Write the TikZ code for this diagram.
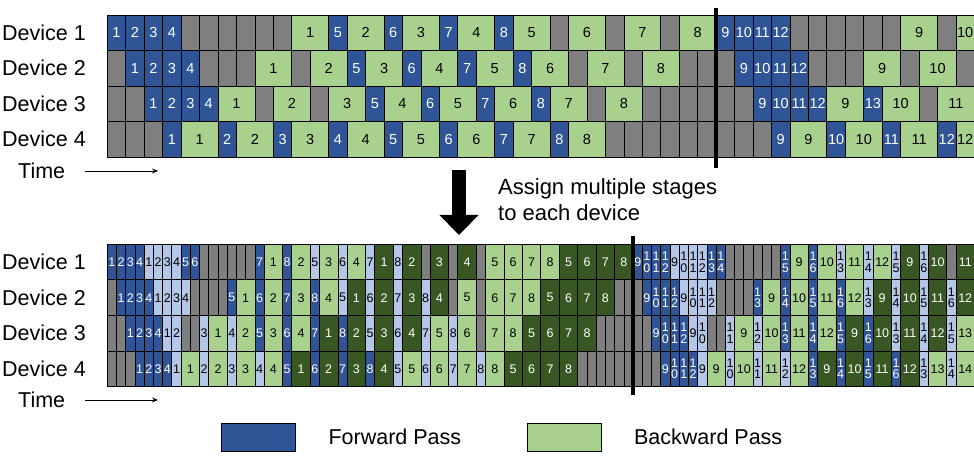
\documentclass[tikz,border=0pt]{standalone}
\usepackage{fontspec}
\setmainfont{Liberation Sans}
\usetikzlibrary{arrows.meta,positioning,calc}

\definecolor{fwdblue}{RGB}{47,85,151}
\definecolor{fwdlight}{RGB}{180,199,231}
\definecolor{bwdgreen}{RGB}{169,209,142}
\definecolor{bwddark}{RGB}{56,87,35}
\definecolor{idlegray}{RGB}{127,127,127}

% one device row: #1 name, #2 centre y, #3 slot width, #4 cell style, #5 cells (slots/style/label)
\newcommand{\devrow}[5]{%
  \foreach \w/\s/\l [count=\n, remember=\xe as \xs (initially 0), evaluate=\w as \xe using \xs+\w] in {#5}
    \node[#4, \s, minimum width={\w*#3*1pt}] (#1-\n) at ({107.3+(\xs+\w/2)*#3}, {#2}) {\l};
}

\begin{document}
\begin{tikzpicture}[x=1pt, y=-1pt,
    cellbig/.style={draw=black, line width=0.8pt, minimum height=35.5pt, inner sep=0pt, outer sep=0pt, align=center, font=\fontsize{14.5}{15}\selectfont},
    cellsmall/.style={cellbig, minimum height=35.6pt, font=\fontsize{12.5}{11.5}\selectfont},
    fwd/.style={fill=fwdblue, text=white},
    fwdb/.style={fill=fwdlight, text=black},
    bwd/.style={fill=bwdgreen, text=black},
    bwdb/.style={fill=bwddark, text=white},
    idle/.style={fill=idlegray},
    devlabel/.style={anchor=west, inner sep=0pt, font=\fontsize{21.5}{26}\selectfont},
    timearr/.style={-{Stealth[length=6pt,width=5pt]}, line width=0.8pt},
    cutline/.style={line width=4pt},
    bigarr/.style={line width=14pt, -{Triangle[width=38pt,length=20pt]}},
    legbox/.style={draw=black, line width=0.8pt, minimum width=74pt, minimum height=28pt, inner sep=0pt}
  ]
  \useasboundingbox (0,0) rectangle (974,462);

  % one stage per device
  \devrow{ta}{32.75}{18.45}{cellbig}{1/fwd/1,1/fwd/2,1/fwd/3,1/fwd/4,
    1/idle/{},1/idle/{},1/idle/{},1/idle/{},1/idle/{},1/idle/{},
    2/bwd/1,1/fwd/5,2/bwd/2,1/fwd/6,2/bwd/3,1/fwd/7,2/bwd/4,1/fwd/8,
    2/bwd/5,1/idle/{},2/bwd/6,1/idle/{},2/bwd/7,1/idle/{},2/bwd/8,
    1/fwd/9,1/fwd/10,1/fwd/11,1/fwd/12,
    1/idle/{},1/idle/{},1/idle/{},1/idle/{},1/idle/{},1/idle/{},
    2/bwd/9,1/idle/{},1/bwd/10}
  \devrow{tb}{68.25}{18.45}{cellbig}{1/idle/{},1/fwd/1,1/fwd/2,1/fwd/3,1/fwd/4,
    1/idle/{},1/idle/{},1/idle/{},
    2/bwd/1,1/idle/{},2/bwd/2,1/fwd/5,2/bwd/3,1/fwd/6,2/bwd/4,1/fwd/7,2/bwd/5,1/fwd/8,
    2/bwd/6,1/idle/{},2/bwd/7,1/idle/{},2/bwd/8,1/idle/{},1/idle/{},
    1/idle/{},1/fwd/9,1/fwd/10,1/fwd/11,1/fwd/12,
    1/idle/{},1/idle/{},1/idle/{},2/bwd/9,1/idle/{},2/bwd/10,1/idle/{}}
  \devrow{tc}{103.75}{18.45}{cellbig}{1/idle/{},1/idle/{},1/fwd/1,1/fwd/2,1/fwd/3,1/fwd/4,
    2/bwd/1,1/idle/{},2/bwd/2,1/idle/{},2/bwd/3,1/fwd/5,2/bwd/4,1/fwd/6,2/bwd/5,1/fwd/7,
    2/bwd/6,1/fwd/8,2/bwd/7,1/idle/{},2/bwd/8,
    1/idle/{},1/idle/{},1/idle/{},1/idle/{},1/idle/{},1/idle/{},
    1/fwd/9,1/fwd/10,1/fwd/11,1/fwd/12,2/bwd/9,1/fwd/13,2/bwd/10,1/idle/{},2/bwd/11}
  \devrow{td}{139.25}{18.45}{cellbig}{1/idle/{},1/idle/{},1/idle/{},
    1/fwd/1,2/bwd/1,1/fwd/2,2/bwd/2,1/fwd/3,2/bwd/3,1/fwd/4,2/bwd/4,
    1/fwd/5,2/bwd/5,1/fwd/6,2/bwd/6,1/fwd/7,2/bwd/7,1/fwd/8,2/bwd/8,
    1/idle/{},1/idle/{},1/idle/{},1/idle/{},1/idle/{},1/idle/{},1/idle/{},1/idle/{},1/idle/{},
    1/fwd/9,2/bwd/9,1/fwd/10,2/bwd/10,1/fwd/11,2/bwd/11,1/fwd/12,1/bwd/12}

  % two stages per device
  \devrow{ba}{262.1}{9.225}{cellsmall}{1/fwd/1,1/fwd/2,1/fwd/3,1/fwd/4,1/fwdb/1,1/fwdb/2,1/fwdb/3,1/fwdb/4,1/fwd/5,1/fwd/6,
    1/idle/{},1/idle/{},1/idle/{},1/idle/{},1/idle/{},1/idle/{},
    1/fwd/7,2/bwd/1,1/fwd/8,2/bwd/2,1/fwdb/5,2/bwd/3,1/fwdb/6,2/bwd/4,1/fwdb/7,2/bwdb/1,1/fwdb/8,2/bwdb/2,
    1/idle/{},2/bwdb/3,1/idle/{},2/bwdb/4,1/idle/{},2/bwd/5,2/bwd/6,2/bwd/7,2/bwd/8,2/bwdb/5,2/bwdb/6,2/bwdb/7,2/bwdb/8,
    1/fwd/9,1/fwd/{1\\0},1/fwd/{1\\1},1/fwd/{1\\2},1/fwdb/9,1/fwdb/{1\\0},1/fwdb/{1\\1},1/fwdb/{1\\2},1/fwd/{1\\3},1/fwd/{1\\4},
    1/idle/{},1/idle/{},1/idle/{},1/idle/{},1/idle/{},1/idle/{},
    1/fwd/{1\\5},2/bwd/9,1/fwd/{1\\6},2/bwd/10,1/fwdb/{1\\3},2/bwd/11,1/fwdb/{1\\4},2/bwd/12,1/fwdb/{1\\5},2/bwdb/9,1/fwdb/{1\\6},2/bwdb/10,
    1/idle/{},2/bwdb/11}
  \devrow{bb}{297.7}{9.225}{cellsmall}{1/idle/{},1/fwd/1,1/fwd/2,1/fwd/3,1/fwd/4,1/fwdb/1,1/fwdb/2,1/fwdb/3,1/fwdb/4,
    1/idle/{},1/idle/{},1/idle/{},1/idle/{},
    1/fwd/5,2/bwd/1,1/fwd/6,2/bwd/2,1/fwd/7,2/bwd/3,1/fwd/8,2/bwd/4,1/fwdb/5,2/bwdb/1,1/fwdb/6,2/bwdb/2,1/fwdb/7,2/bwdb/3,1/fwdb/8,2/bwdb/4,
    1/idle/{},2/bwd/5,1/idle/{},2/bwd/6,2/bwd/7,2/bwd/8,2/bwdb/5,2/bwdb/6,2/bwdb/7,2/bwdb/8,1/idle/{},1/idle/{},
    1/idle/{},1/fwd/9,1/fwd/{1\\0},1/fwd/{1\\1},1/fwd/{1\\2},1/fwdb/9,1/fwdb/{1\\0},1/fwdb/{1\\1},1/fwdb/{1\\2},
    1/idle/{},1/idle/{},1/idle/{},1/idle/{},
    1/fwd/{1\\3},2/bwd/9,1/fwd/{1\\4},2/bwd/10,1/fwd/{1\\5},2/bwd/11,1/fwd/{1\\6},2/bwd/12,
    1/fwdb/{1\\3},2/bwdb/9,1/fwdb/{1\\4},2/bwdb/10,1/fwdb/{1\\5},2/bwdb/11,1/fwdb/{1\\6},2/bwdb/12}
  \devrow{bc}{333.3}{9.225}{cellsmall}{1/idle/{},1/idle/{},1/fwd/1,1/fwd/2,1/fwd/3,1/fwd/4,1/fwdb/1,1/fwdb/2,1/idle/{},1/idle/{},
    1/fwdb/3,2/bwd/1,1/fwdb/4,2/bwd/2,1/fwd/5,2/bwd/3,1/fwd/6,2/bwd/4,1/fwd/7,2/bwdb/1,1/fwd/8,2/bwdb/2,
    1/fwdb/5,2/bwdb/3,1/fwdb/6,2/bwdb/4,1/fwdb/7,2/bwd/5,1/fwdb/8,2/bwd/6,1/idle/{},2/bwd/7,2/bwd/8,
    2/bwdb/5,2/bwdb/6,2/bwdb/7,2/bwdb/8,1/idle/{},1/idle/{},1/idle/{},1/idle/{},
    1/idle/{},1/idle/{},1/fwd/9,1/fwd/{1\\0},1/fwd/{1\\1},1/fwd/{1\\2},1/fwdb/9,1/fwdb/{1\\0},1/idle/{},1/idle/{},
    1/fwdb/{1\\1},2/bwd/9,1/fwdb/{1\\2},2/bwd/10,1/fwd/{1\\3},2/bwd/11,1/fwd/{1\\4},2/bwd/12,1/fwd/{1\\5},2/bwdb/9,1/fwd/{1\\6},2/bwdb/10,
    1/fwdb/{1\\3},2/bwdb/11,1/fwdb/{1\\4},2/bwdb/12,1/fwdb/{1\\5},2/bwd/13}
  \devrow{bd}{368.9}{9.225}{cellsmall}{1/idle/{},1/idle/{},1/idle/{},1/fwd/1,1/fwd/2,1/fwd/3,1/fwd/4,
    1/fwdb/1,2/bwd/1,1/fwdb/2,2/bwd/2,1/fwdb/3,2/bwd/3,1/fwdb/4,2/bwd/4,
    1/fwd/5,2/bwdb/1,1/fwd/6,2/bwdb/2,1/fwd/7,2/bwdb/3,1/fwd/8,2/bwdb/4,
    1/fwdb/5,2/bwd/5,1/fwdb/6,2/bwd/6,1/fwdb/7,2/bwd/7,1/fwdb/8,2/bwd/8,
    2/bwdb/5,2/bwdb/6,2/bwdb/7,2/bwdb/8,1/idle/{},1/idle/{},1/idle/{},1/idle/{},1/idle/{},1/idle/{},
    1/idle/{},1/idle/{},1/idle/{},1/fwd/9,1/fwd/{1\\0},1/fwd/{1\\1},1/fwd/{1\\2},
    1/fwdb/9,2/bwd/9,1/fwdb/{1\\0},2/bwd/10,1/fwdb/{1\\1},2/bwd/11,1/fwdb/{1\\2},2/bwd/12,
    1/fwd/{1\\3},2/bwdb/9,1/fwd/{1\\4},2/bwdb/10,1/fwd/{1\\5},2/bwdb/11,1/fwd/{1\\6},2/bwdb/12,
    1/fwdb/{1\\3},2/bwd/13,1/fwdb/{1\\4},2/bwd/14}

  % device labels
  \node[devlabel] (dev-ta) at (2,32.75) {Device 1};
  \node[devlabel] (dev-tb) at (2,68.25) {Device 2};
  \node[devlabel] (dev-tc) at (2,103.75) {Device 3};
  \node[devlabel] (dev-td) at (2,139.25) {Device 4};
  \node[devlabel] (dev-ba) at (2,262.1) {Device 1};
  \node[devlabel] (dev-bb) at (2,297.7) {Device 2};
  \node[devlabel] (dev-bc) at (2,333.3) {Device 3};
  \node[devlabel] (dev-bd) at (2,368.9) {Device 4};

  % time axes
  \node[devlabel] (time-t) at (18,171) {Time};
  \coordinate (tstart-t) at (85,171);
  \coordinate (tend-t) at (158,171);
  \draw[timearr] (tstart-t) -- (tend-t);
  \node[devlabel] (time-b) at (18,400) {Time};
  \coordinate (tstart-b) at (85,400);
  \coordinate (tend-b) at (158,400);
  \draw[timearr] (tstart-b) -- (tend-b);

  % iteration boundaries
  \coordinate (cut-t1) at (716.2,8);
  \coordinate (cut-t2) at (716.2,168);
  \draw[cutline] (cut-t1) -- (cut-t2);
  \coordinate (cut-b1) at (633.1,236);
  \coordinate (cut-b2) at (633.1,395);
  \draw[cutline] (cut-b1) -- (cut-b2);

  % interleaving
  \coordinate (big-top) at (459,170);
  \coordinate (big-tip) at (459,235);
  \draw[bigarr] (big-top) -- (big-tip);
  \node[devlabel, align=left, font=\fontsize{22}{26}\selectfont] (assign) at (498,200) {Assign multiple stages\\to each device};

  % legend
  \node[legbox, fill=fwdblue] (leg-f) at (258,437) {};
  \node[devlabel, right=33pt of leg-f] (leg-ftext) {Forward Pass};
  \node[legbox, fill=bwdgreen] (leg-b) at (564.5,437) {};
  \node[devlabel, right=32pt of leg-b] (leg-btext) {Backward Pass};
\end{tikzpicture}
\end{document}
